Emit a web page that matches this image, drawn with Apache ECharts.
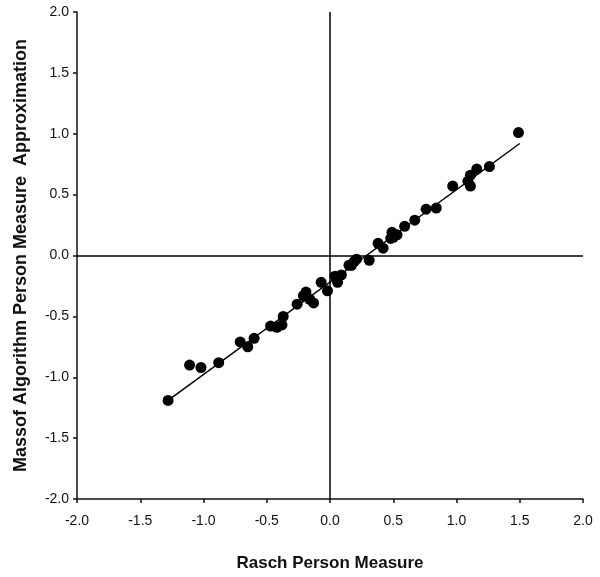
<!DOCTYPE html>
<html>
<head>
<meta charset="utf-8">
<script src="https://cdn.jsdelivr.net/npm/echarts@6/dist/echarts.min.js"></script>
<style>
  html, body { margin: 0; padding: 0; background: #fff; }
  #chart { width: 600px; height: 577px; }
</style>
</head>
<body>
<div id="chart"></div>
<script>
// Rasch person measure (x) vs Massof algorithm approximation (y)
const raschMeasure = [
  -1.28, -1.11, -1.02, -0.88, -0.71, -0.65, -0.60, -0.47, -0.42, -0.38,
  -0.37, -0.26, -0.21, -0.19, -0.16, -0.13, -0.07, -0.02, 0.04, 0.06,
  0.09, 0.15, 0.17, 0.21, 0.19, 0.31, 0.38, 0.42, 0.49, 0.50,
  0.53, 0.48, 0.59, 0.67, 0.76, 0.84, 0.97, 1.09, 1.11, 1.11,
  1.16, 1.26, 1.49
];
const massofApprox = [
  -1.19, -0.90, -0.92, -0.88, -0.71, -0.75, -0.68, -0.58, -0.59, -0.57,
  -0.50, -0.40, -0.33, -0.30, -0.36, -0.39, -0.22, -0.29, -0.17, -0.22,
  -0.16, -0.08, -0.08, -0.03, -0.05, -0.04, 0.10, 0.06, 0.19, 0.15,
  0.17, 0.14, 0.24, 0.29, 0.38, 0.39, 0.57, 0.61, 0.57, 0.66,
  0.71, 0.73, 1.01
];
// fitted line end points
const fitX = [-1.28, 1.50];
const fitY = [-1.19, 0.92];

const points = raschMeasure.map((x, i) => [x, massofApprox[i]]);
const fitLine = fitX.map((x, i) => [x, fitY[i]]);

const chart = echarts.init(document.getElementById("chart"), null, { renderer: "canvas" });

const fmt = v => v.toFixed(1);
const family = "Liberation Sans, Arial, sans-serif";
const axisFont = { fontFamily: family, fontSize: 14, color: "#111" };

const option = {
  animation: false,
  grid: { left: 77, right: 17, top: 12, bottom: 76.5, containLabel: false },
  xAxis: {
    type: "value",
    min: -2, max: 2, interval: 0.5,
    name: "Rasch Person Measure",
    nameLocation: "middle",
    nameGap: 56,
    nameTextStyle: { fontFamily: family, fontSize: 17, fontWeight: "bold", color: "#111" },
    axisLine: { onZero: false, lineStyle: { color: "#111", width: 1.5 } },
    axisTick: { length: 4, lineStyle: { color: "#111", width: 1.5 } },
    axisLabel: Object.assign({ margin: 15, formatter: fmt }, axisFont),
    splitLine: { show: false }
  },
  yAxis: {
    type: "value",
    min: -2, max: 2, interval: 0.5,
    name: "Massof Algorithm Person Measure  Approximation",
    nameLocation: "middle",
    nameGap: 47,
    nameTextStyle: { fontFamily: family, fontSize: 18, fontWeight: "bold", color: "#111" },
    axisLine: { onZero: false, lineStyle: { color: "#111", width: 1.5 } },
    axisTick: { length: 4, lineStyle: { color: "#111", width: 1.5 } },
    axisLabel: Object.assign({ margin: 8, formatter: fmt }, axisFont),
    splitLine: { show: false }
  },
  series: [
    {
      type: "scatter",
      data: points,
      symbol: "circle",
      symbolSize: 11,
      itemStyle: { color: "#000", opacity: 1 },
      z: 3,
      markLine: {
        silent: true,
        symbol: "none",
        label: { show: false },
        lineStyle: { color: "#000", width: 1.5, type: "solid" },
        data: [{ xAxis: 0 }, { yAxis: 0 }]
      }
    },
    {
      type: "line",
      data: fitLine,
      symbol: "none",
      lineStyle: { color: "#000", width: 1.5 },
      z: 2
    }
  ]
};

chart.setOption(option);
window.addEventListener("resize", chart.resize);
</script>
</body>
</html>
